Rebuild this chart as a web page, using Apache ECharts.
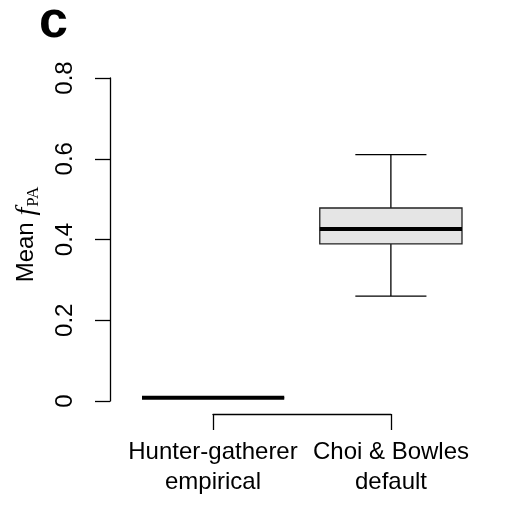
<!DOCTYPE html>
<html>
<head>
<meta charset="utf-8">
<script src="https://cdn.jsdelivr.net/npm/echarts@6/dist/echarts.min.js"></script>
<style>
  html, body { margin: 0; padding: 0; background: #fff; }
  #chart { width: 511px; height: 508px; }
</style>
</head>
<body>
<div id="chart"></div>
<script>
// data
var categories = ['Hunter-gatherer\nempirical', 'Choi & Bowles\ndefault'];
var positions = [1, 2];
var whiskerLow = [0.008, 0.26];
var lowerQuart = [0.008, 0.389];
var medians = [0.008, 0.426];
var upperQuart = [0.008, 0.478];
var whiskerHigh = [0.008, 0.61];
var yTicks = [0, 0.2, 0.4, 0.6, 0.8];

var font = 'Liberation Sans';
var boxWex = 0.8;
var stapleWex = 0.4;

var boxData = positions.map(function (p, i) {
    return [p, whiskerLow[i], lowerQuart[i], medians[i], upperQuart[i], whiskerHigh[i]];
});

function renderBox(params, api) {
    var x = api.value(0);
    var lo = api.coord([x - boxWex / 2, api.value(2)]);
    var hi = api.coord([x + boxWex / 2, api.value(4)]);
    var med1 = api.coord([x - boxWex / 2, api.value(3)]);
    var med2 = api.coord([x + boxWex / 2, api.value(3)]);
    var wLo = api.coord([x, api.value(1)]);
    var wHi = api.coord([x, api.value(5)]);
    var capL = api.coord([x - stapleWex / 2, 0])[0];
    var capR = api.coord([x + stapleWex / 2, 0])[0];
    var line = { stroke: '#000', lineWidth: 1.3 };
    return {
        type: 'group',
        children: [
            { type: 'line', shape: { x1: wLo[0], y1: wLo[1], x2: wLo[0], y2: lo[1] }, style: line },
            { type: 'line', shape: { x1: wHi[0], y1: wHi[1], x2: wHi[0], y2: hi[1] }, style: line },
            { type: 'line', shape: { x1: capL, y1: wLo[1], x2: capR, y2: wLo[1] }, style: line },
            { type: 'line', shape: { x1: capL, y1: wHi[1], x2: capR, y2: wHi[1] }, style: line },
            { type: 'rect', shape: { x: lo[0], y: hi[1], width: hi[0] - lo[0], height: lo[1] - hi[1] },
              style: { fill: '#e5e5e5', stroke: '#222', lineWidth: 1.3 } },
            { type: 'line', shape: { x1: med1[0], y1: med1[1], x2: med2[0], y2: med2[1] },
              style: { stroke: '#000', lineWidth: 4 } }
        ]
    };
}

var option = {
    backgroundColor: '#fff',
    animation: false,
    title: {
        text: 'c',
        left: 34,
        top: -8,
        textStyle: { fontFamily: font, fontWeight: 'bold', fontSize: 52, color: '#000' }
    },
    grid: [
        { left: 110, right: 17, top: 78, bottom: 107 },
        { left: 213, right: 120, top: 413, height: 1 }
    ],
    xAxis: [
        { gridIndex: 0, type: 'value', min: 0.42, max: 2.58, show: false },
        {
            gridIndex: 1, type: 'value', min: 1, max: 2, interval: 1,
            axisLine: { show: true, lineStyle: { color: '#000', width: 1.3 } },
            axisTick: { show: true, length: 16, lineStyle: { color: '#000', width: 1.3 } },
            splitLine: { show: false },
            axisLabel: {
                margin: 23,
                fontFamily: font, fontSize: 24, color: '#000', lineHeight: 30,
                formatter: function (v) { return categories[positions.indexOf(v)] || ''; }
            }
        }
    ],
    yAxis: [
        {
            gridIndex: 0, type: 'value', min: yTicks[0], max: yTicks[yTicks.length - 1], interval: 0.2,
            axisLine: { show: true, lineStyle: { color: '#000', width: 1.3 } },
            axisTick: { show: true, length: 15, lineStyle: { color: '#000', width: 1.3 } },
            splitLine: { show: false },
            axisLabel: { rotate: 90, margin: 33, fontFamily: font, fontSize: 24, color: '#000' },
            name: '{a|Mean }{b|f}{c|PA}',
            nameLocation: 'middle',
            nameRotate: 90,
            nameGap: 68,
            nameTextStyle: {
                rich: {
                    a: { fontFamily: font, fontSize: 24, color: '#000', padding: [0, 0, 0, 10] },
                    b: { fontFamily: 'Liberation Serif', fontStyle: 'italic', fontSize: 28, color: '#000' },
                    c: { fontFamily: 'Liberation Serif', fontSize: 17, color: '#000', padding: [14, 0, 0, 1] }
                }
            }
        },
        { gridIndex: 1, type: 'value', show: false }
    ],
    series: [
        {
            type: 'custom',
            xAxisIndex: 0,
            yAxisIndex: 0,
            clip: false,
            renderItem: renderBox,
            data: boxData
        }
    ]
};

var chart = echarts.init(document.getElementById('chart'));
chart.setOption(option);
</script>
</body>
</html>
